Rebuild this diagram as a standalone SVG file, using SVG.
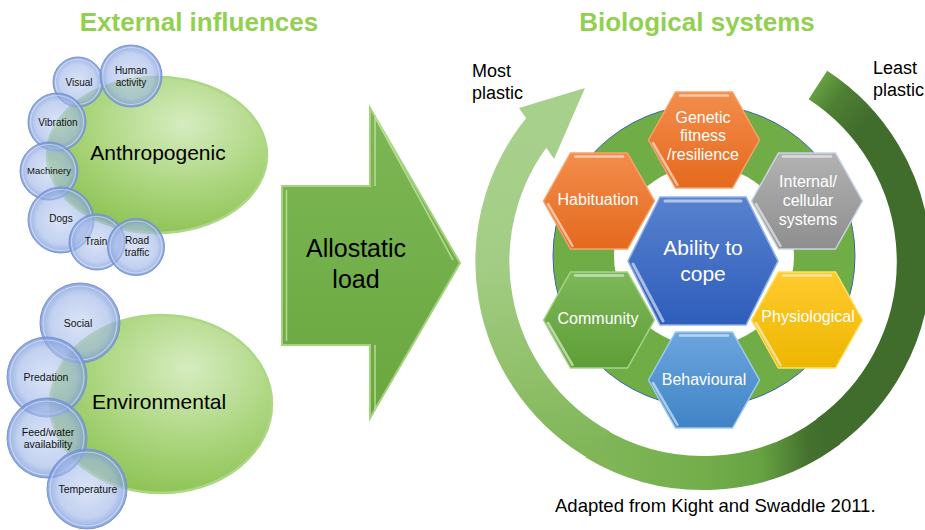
<svg xmlns="http://www.w3.org/2000/svg" xmlns:xlink="http://www.w3.org/1999/xlink" width="925" height="530" viewBox="0 0 925 530">
  <defs>
    <radialGradient id="gEllipse" cx="0.62" cy="0.3" r="0.8">
      <stop offset="0" stop-color="#D6ECC0"/>
      <stop offset="0.55" stop-color="#A9D47A"/>
      <stop offset="1" stop-color="#86BE4A"/>
    </radialGradient>
    <radialGradient id="gBubble" cx="0.5" cy="0.5" r="0.5">
      <stop offset="0" stop-color="#C3D3F2" stop-opacity="0.62"/>
      <stop offset="0.72" stop-color="#A2B8E8" stop-opacity="0.64"/>
      <stop offset="0.92" stop-color="#809EDC" stop-opacity="0.74"/>
      <stop offset="1" stop-color="#6A8BD3" stop-opacity="0.8"/>
    </radialGradient>
    <linearGradient id="gArrow" x1="0" y1="0" x2="0" y2="1">
      <stop offset="0" stop-color="#7DB756"/>
      <stop offset="1" stop-color="#69A73E"/>
    </linearGradient>
    <!-- colour runs of the curved plasticity arrow -->
    <linearGradient id="gArcA" gradientUnits="userSpaceOnUse" x1="812" y1="80" x2="868" y2="122">
      <stop offset="0" stop-color="#6CAA45"/>
      <stop offset="0.45" stop-color="#4E8033"/>
      <stop offset="1" stop-color="#406C2C"/>
    </linearGradient>
    <linearGradient id="gArcB" gradientUnits="userSpaceOnUse" x1="830" y1="435" x2="597" y2="445">
      <stop offset="0" stop-color="#406C2C"/>
      <stop offset="0.1" stop-color="#45722E"/>
      <stop offset="0.3" stop-color="#66A242"/>
      <stop offset="0.55" stop-color="#74AE4B"/>
      <stop offset="1" stop-color="#80B658"/>
    </linearGradient>
    <linearGradient id="gArcC" gradientUnits="userSpaceOnUse" x1="597.5" y1="444.7" x2="546.2" y2="120.8">
      <stop offset="0" stop-color="#80B658"/>
      <stop offset="0.27" stop-color="#92C16C"/>
      <stop offset="0.6" stop-color="#A3CD84"/>
      <stop offset="1" stop-color="#A8D08D"/>
    </linearGradient>
    <linearGradient id="gOrange" x1="0" y1="0" x2="0" y2="1">
      <stop offset="0" stop-color="#F38D4C"/>
      <stop offset="1" stop-color="#E4691D"/>
    </linearGradient>
    <linearGradient id="gGray" x1="0" y1="0" x2="0" y2="1">
      <stop offset="0" stop-color="#B2B2B2"/>
      <stop offset="1" stop-color="#8E8E8E"/>
    </linearGradient>
    <linearGradient id="gBlue" x1="0" y1="0" x2="0" y2="1">
      <stop offset="0" stop-color="#5882CF"/>
      <stop offset="1" stop-color="#2E5DBB"/>
    </linearGradient>
    <linearGradient id="gYellow" x1="0" y1="0" x2="0" y2="1">
      <stop offset="0" stop-color="#FFCB2E"/>
      <stop offset="1" stop-color="#EDB600"/>
    </linearGradient>
    <linearGradient id="gGreen" x1="0" y1="0" x2="0" y2="1">
      <stop offset="0" stop-color="#7EB85A"/>
      <stop offset="1" stop-color="#5E9E36"/>
    </linearGradient>
    <linearGradient id="gSky" x1="0" y1="0" x2="0" y2="1">
      <stop offset="0" stop-color="#6CA6DE"/>
      <stop offset="1" stop-color="#3F83C6"/>
    </linearGradient>
    <!-- hexagon shapes centred on the origin -->
    <polygon id="hexS" points="-55.5,0 -28.5,-48 28.5,-48 55.5,0 28.5,48 -28.5,48"/>
    <path id="hexSHi" d="M-24,-44.5 H24 M-51,3 L-26.5,45"/>
    <polygon id="hexL" points="-75,0 -43,-64 43,-64 75,0 43,64 -43,64"/>
    <path id="hexLHi" d="M-38,-60 H38 M-70,3 L-40,60"/>
  </defs>
  <style>
    .t{font-family:"Liberation Sans",Arial,Helvetica,sans-serif}
    .title{font-size:26px;font-weight:bold;fill:#92D050;text-anchor:middle}
    .note{font-size:18px;fill:#000}
    .ell{fill:url(#gEllipse);stroke:#ADD883;stroke-width:2.5}
    .ellText{font-size:21px;fill:#000;text-anchor:middle}
    .bub{fill:url(#gBubble);stroke:#7896D6;stroke-width:1}
    .bubRim{fill:none;stroke:#fff;stroke-opacity:0.45;stroke-width:1.2}
    .bt{font-size:10px;fill:#111;text-anchor:middle}
    .bt2{font-size:10.5px;fill:#111;text-anchor:middle}
    .hexHi{fill:none;stroke:#fff;stroke-linecap:round}
    .ht{font-size:16px;fill:#fff;text-anchor:middle}
    .arc{fill:none;stroke-width:34}
  </style>

  <rect width="925" height="530" fill="#fff"/>

  <!-- headings -->
  <text class="t title" x="199" y="31">External influences</text>
  <text class="t title" x="697" y="31">Biological systems</text>

  <!-- anthropogenic cluster -->
  <g id="anthropogenic">
    <ellipse class="ell" cx="157" cy="155" rx="110" ry="78"/>
    <text class="t ellText" x="158" y="160">Anthropogenic</text>
  </g>
  <g id="visual"><circle class="bub" cx="78" cy="82" r="25"/><circle class="bubRim" cx="78" cy="82" r="22.5"/><text class="t bt" x="79" y="86">Visual</text></g>
  <g id="human-activity"><circle class="bub" cx="131" cy="76" r="31"/><circle class="bubRim" cx="131" cy="76" r="28.5"/><text class="t bt" x="131" y="74">Human</text><text class="t bt" x="131" y="86">activity</text></g>
  <g id="vibration"><circle class="bub" cx="57" cy="122" r="29"/><circle class="bubRim" cx="57" cy="122" r="26.5"/><text class="t bt" x="58" y="126">Vibration</text></g>
  <g id="machinery"><circle class="bub" cx="49" cy="171" r="29"/><circle class="bubRim" cx="49" cy="171" r="26.5"/><text class="t bt" x="49" y="174" style="font-size:9.5px">Machinery</text></g>
  <g id="dogs"><circle class="bub" cx="61" cy="220" r="33"/><circle class="bubRim" cx="61" cy="220" r="30.5"/><text class="t bt" x="61" y="222">Dogs</text></g>
  <g id="train"><circle class="bub" cx="97" cy="242" r="28"/><circle class="bubRim" cx="97" cy="242" r="25.5"/></g>
  <g id="road-traffic"><circle class="bub" cx="136" cy="247" r="28.5"/><circle class="bubRim" cx="136" cy="247" r="26"/><text class="t bt" x="137" y="244">Road</text><text class="t bt" x="137" y="256">traffic</text></g>
  <text class="t bt" x="96" y="245">Train</text>

  <!-- environmental cluster -->
  <g id="environmental">
    <ellipse class="ell" cx="161" cy="404" rx="111" ry="89"/>
    <text class="t ellText" x="159" y="409">Environmental</text>
  </g>
  <g id="social"><circle class="bub" cx="80" cy="323" r="40"/><circle class="bubRim" cx="80" cy="323" r="37"/><text class="t bt2" x="78" y="327">Social</text></g>
  <g id="predation"><circle class="bub" cx="47" cy="377" r="40"/><circle class="bubRim" cx="47" cy="377" r="37"/><text class="t bt2" x="46" y="381">Predation</text></g>
  <g id="feed-water"><circle class="bub" cx="47" cy="438" r="40"/><circle class="bubRim" cx="47" cy="438" r="37"/><text class="t bt2" x="48" y="436">Feed/water</text><text class="t bt2" x="48" y="448">availability</text></g>
  <g id="temperature"><circle class="bub" cx="87" cy="489" r="40"/><circle class="bubRim" cx="87" cy="489" r="37"/><text class="t bt2" x="88" y="493">Temperature</text></g>

  <!-- allostatic load block arrow -->
  <g id="allostatic-load">
    <polygon points="282,186 370,186 370,108 460,263 370,418 370,345 282,345" fill="url(#gArrow)" stroke="#A6D27F" stroke-width="2"/>
    <path d="M286.5,341 V190 M375,186 V117 L453,260 M375,409 V345" fill="none" stroke="#C2E3A0" stroke-width="1.6" stroke-opacity="0.8"/>
    <text class="t" x="356" y="257" style="font-size:25px;text-anchor:middle">Allostatic</text>
    <text class="t" x="356" y="288" style="font-size:25px;text-anchor:middle">load</text>
  </g>

  <!-- plasticity cycle: curved arrow running clockwise from the dark tail to the light head -->
  <g id="connectors">
    <path class="arc" d="M817.9,85 A211,211 0 0 1 826.3,432.9" stroke="url(#gArcA)"/>
    <path class="arc" d="M830.1,430.5 A211,211 0 0 1 594.4,442.9" stroke="url(#gArcB)"/>
    <path class="arc" d="M601.3,446.2 A211,211 0 0 1 546.2,120.8" stroke="url(#gArcC)"/>
    <polygon points="519,108 585,88 554,159" fill="#A8D08D"/>
  </g>

  <text class="t note" x="472" y="77">Most</text>
  <text class="t note" x="472" y="99">plastic</text>
  <text class="t note" x="873" y="74">Least</text>
  <text class="t note" x="873" y="96">plastic</text>

  <!-- green ring behind the hexagons -->
  <g id="ring">
    <circle cx="704" cy="256" r="151" fill="#70AD47" stroke="#3A64A8" stroke-width="1"/>
    <circle cx="704" cy="256" r="90" fill="#fff"/>
  </g>

  <g id="genetic" transform="translate(704 140)">
    <use xlink:href="#hexS" fill="url(#gOrange)" stroke="#F6A36C" stroke-width="1.5"/>
    <use xlink:href="#hexSHi" class="hexHi" stroke-width="2.5" stroke-opacity="0.55"/>
    <text class="t ht" x="-1" y="-17">Genetic</text>
    <text class="t ht" x="-1" y="1">fitness</text>
    <text class="t ht" x="-1" y="20">/resilience</text>
  </g>
  <g id="habituation" transform="translate(599 201)">
    <use xlink:href="#hexS" fill="url(#gOrange)" stroke="#F6A36C" stroke-width="1.5"/>
    <use xlink:href="#hexSHi" class="hexHi" stroke-width="2.5" stroke-opacity="0.55"/>
    <text class="t ht" x="-1" y="4">Habituation</text>
  </g>
  <g id="internal-cellular" transform="translate(807 201)">
    <use xlink:href="#hexS" fill="url(#gGray)" stroke="#C8D4E4" stroke-width="1.5"/>
    <use xlink:href="#hexSHi" class="hexHi" stroke-width="2.5" stroke-opacity="0.55"/>
    <text class="t ht" x="1" y="-14">Internal/</text>
    <text class="t ht" x="1" y="5">cellular</text>
    <text class="t ht" x="1" y="24">systems</text>
  </g>
  <g id="community" transform="translate(599 320)">
    <use xlink:href="#hexS" fill="url(#gGreen)" stroke="#A6D48A" stroke-width="1.5"/>
    <use xlink:href="#hexSHi" class="hexHi" stroke-width="2.5" stroke-opacity="0.55"/>
    <text class="t ht" x="-1" y="4">Community</text>
  </g>
  <g id="physiological" transform="translate(807 320)">
    <use xlink:href="#hexS" fill="url(#gYellow)" stroke="#FFE066" stroke-width="1.5"/>
    <use xlink:href="#hexSHi" class="hexHi" stroke-width="2.5" stroke-opacity="0.55"/>
    <text class="t ht" x="1" y="2">Physiological</text>
  </g>
  <g id="behavioural" transform="translate(704 380)">
    <use xlink:href="#hexS" fill="url(#gSky)" stroke="#9CCBF0" stroke-width="1.5"/>
    <use xlink:href="#hexSHi" class="hexHi" stroke-width="2.5" stroke-opacity="0.55"/>
    <text class="t ht" x="0" y="5">Behavioural</text>
  </g>
  <g id="ability-to-cope" transform="translate(703 261)">
    <use xlink:href="#hexL" fill="url(#gBlue)" stroke="#8FB2EA" stroke-width="1.5"/>
    <use xlink:href="#hexLHi" class="hexHi" stroke-width="3" stroke-opacity="0.55"/>
    <text class="t ht" x="0" y="-6" style="font-size:21px">Ability to</text>
    <text class="t ht" x="0" y="20" style="font-size:21px">cope</text>
  </g>

  <text class="t note" x="555" y="512" style="font-size:18.5px">Adapted from Kight and Swaddle 2011.</text>
</svg>
